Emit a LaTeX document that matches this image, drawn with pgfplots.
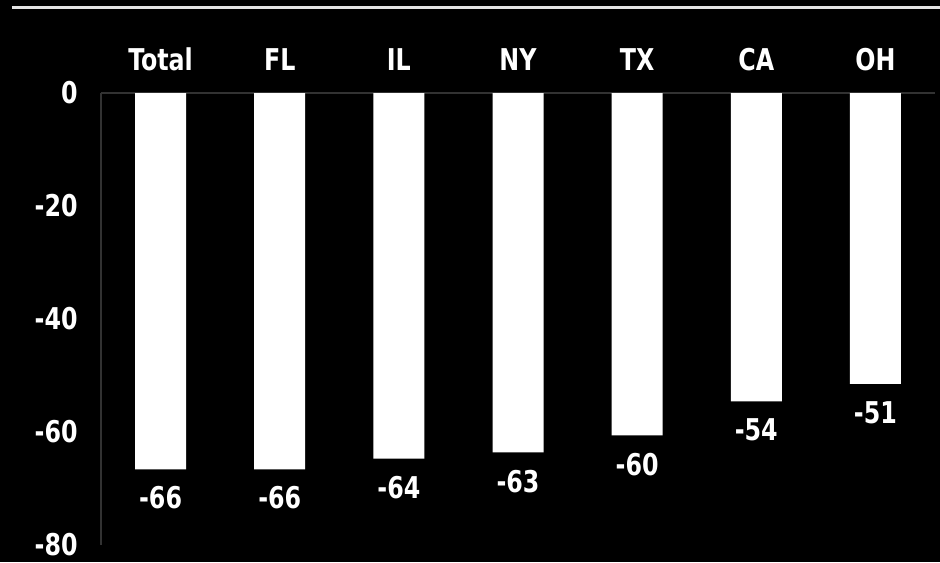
\documentclass[border=0pt]{standalone}
\usepackage{pgfplots}
\pgfplotsset{compat=1.18}
\usepackage{fontspec}
\setmainfont[FakeStretch=0.88]{DejaVu Sans Condensed}
\definecolor{axisgray}{RGB}{50,50,50}
\definecolor{rulegray}{RGB}{228,228,228}
\begin{document}
\begin{tikzpicture}
\fill[black] (-50.5pt,-8.5pt) rectangle (419.5pt,272.5pt);
\draw[line width=1.5pt, rulegray] (-44.5pt,268.5pt) -- (419.5pt,268.5pt);
\begin{axis}[
  at={(0pt,0pt)}, anchor=south west,
  scale only axis, width=417pt, height=226pt,
  xmin=-0.5, xmax=6.5, ymin=-80, ymax=0,
  axis y line*=left, axis x line*=top,
  axis line style={axisgray, line width=0.8pt},
  xtick={0,1,2,3,4,5,6},
  xticklabels={Total,FL,IL,NY,TX,CA,OH},
  ytick={-80,-60,-40,-20,0},
  yticklabels={-80,-60,-40,-20,0},
  major tick length=0pt,
  tick style={draw=none},
  ticklabel style={font=\bfseries\fontsize{15}{15}\selectfont, text=white},
  xticklabel style={anchor=base, inner sep=0pt, yshift=11.5pt},
  yticklabel style={anchor=east, inner sep=0pt, xshift=-11.5pt},
  ybar, bar width=25.5pt,
  point meta=explicit symbolic,
  nodes near coords,
  every node near coord/.append style={anchor=north, inner sep=0pt, yshift=-8.5pt,
     font=\bfseries\fontsize{15}{15}\selectfont, text=white},
]
\addplot[fill=white, draw=none] table[x=x, y=y, meta=lab] {
x y lab
0 -66.6 -66
1 -66.6 -66
2 -64.7 -64
3 -63.6 -63
4 -60.6 -60
5 -54.6 -54
6 -51.5 -51
};
\end{axis}
\pgfresetboundingbox
\useasboundingbox (-50.5pt,-8.5pt) rectangle (419.5pt,272.5pt);
\end{tikzpicture}
\end{document}
